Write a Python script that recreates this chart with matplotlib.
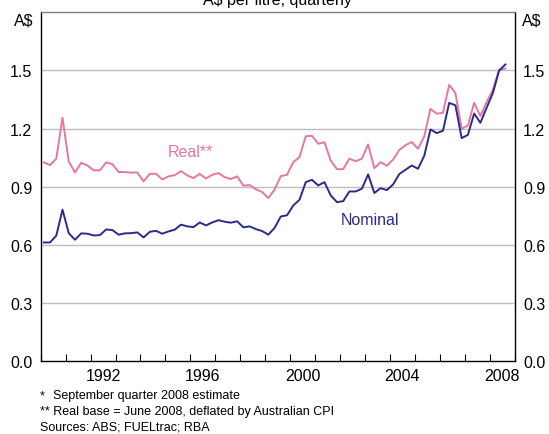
import numpy as np
import matplotlib
matplotlib.use("Agg")
from matplotlib import pyplot as plt
from matplotlib.ticker import MultipleLocator, FixedLocator

plt.rcParams['font.family'] = ['Liberation Sans', 'DejaVu Sans']

# quarterly petrol prices, A$ per litre, March qtr 1990 to Sept qtr 2008
start_year = 1990
real = [1.026, 1.012, 1.045, 1.256, 1.031, 0.974, 1.024, 1.010, 0.985, 0.985,
        1.026, 1.017, 0.976, 0.976, 0.973, 0.974, 0.928, 0.967, 0.967, 0.938,
        0.954, 0.960, 0.981, 0.959, 0.945, 0.967, 0.943, 0.962, 0.971, 0.950,
        0.940, 0.954, 0.906, 0.909, 0.887, 0.873, 0.842, 0.885, 0.955, 0.962,
        1.027, 1.053, 1.161, 1.163, 1.122, 1.130, 1.036, 0.991, 0.991, 1.045,
        1.032, 1.045, 1.119, 0.996, 1.027, 1.009, 1.040, 1.090, 1.115, 1.131,
        1.096, 1.160, 1.302, 1.277, 1.282, 1.426, 1.383, 1.199, 1.216, 1.333,
        1.265, 1.337, 1.400, 1.503, 1.510]
nominal = [0.613, 0.613, 0.648, 0.782, 0.661, 0.627, 0.660, 0.658, 0.649, 0.651,
           0.680, 0.677, 0.653, 0.660, 0.661, 0.665, 0.639, 0.668, 0.673, 0.658,
           0.670, 0.679, 0.705, 0.696, 0.692, 0.716, 0.701, 0.716, 0.728, 0.720,
           0.715, 0.722, 0.691, 0.696, 0.682, 0.672, 0.653, 0.688, 0.747, 0.753,
           0.804, 0.833, 0.924, 0.936, 0.907, 0.924, 0.856, 0.821, 0.826, 0.876,
           0.876, 0.890, 0.964, 0.868, 0.893, 0.883, 0.912, 0.966, 0.988, 1.010,
           0.993, 1.060, 1.196, 1.177, 1.189, 1.333, 1.320, 1.151, 1.168, 1.278,
           1.230, 1.308, 1.383, 1.500, 1.531]
year_labels = [1992, 1996, 2000, 2004, 2008]
yticks = [0.0, 0.3, 0.6, 0.9, 1.2, 1.5]

pink = '#e8769f'
navy = '#2a2b8f'

t = start_year + 0.125 + 0.25*np.arange(len(real))  # mid-quarter

fig = plt.figure(figsize=(5.49, 4.35), dpi=100)
ax = fig.add_axes([0.0741, 0.1671, 0.8634, 0.8023])

for y in yticks[1:]:
    ax.axhline(y, color='#bdbdbd', lw=1.0, zorder=1)

ax.plot(t, real, color=pink, lw=1.4, zorder=3)
ax.plot(t, nominal, color=navy, lw=1.4, zorder=4)

ax.set_xlim(1990, 2009)
ax.set_ylim(0, 1.8)

# labels sit mid-year, tick marks on year boundaries
ax.xaxis.set_major_locator(FixedLocator([y + 0.5 for y in year_labels]))
ax.set_xticklabels([str(y) for y in year_labels])
ax.xaxis.set_minor_locator(MultipleLocator(1))
ax.tick_params(axis='x', which='major', length=0, pad=5, labelsize=11.5)
ax.tick_params(axis='x', which='minor', direction='in', length=5, width=0.8, color='black')

ax.set_yticks(yticks)
ax.set_yticklabels(['%.1f' % v for v in yticks])
ax.tick_params(axis='y', length=0, pad=6, labelsize=11.5, labelright=True)

for s in ['left', 'right', 'bottom']:
    ax.spines[s].set_color('black')
    ax.spines[s].set_linewidth(1.0)
ax.spines['top'].set_color('#808080')
ax.spines['top'].set_linewidth(1.0)

ax.text(1996.0, 1.08, 'Real**', color=pink, fontsize=11.5, ha='center', va='center')
ax.text(2003.2, 0.73, 'Nominal', color=navy, fontsize=11.5, ha='center', va='center')

fig.text(0.505, 1 - 5/435, 'A$ per litre, quarterly', ha='center', va='baseline', fontsize=11.5)
fig.text(33/549, 1 - 21/435, 'A$', ha='right', va='center', fontsize=11.5)
fig.text(522/549, 1 - 21/435, 'A$', ha='left', va='center', fontsize=11.5)

fig.text(40/549, 1 - 396/435, '*', ha='left', va='center', fontsize=9)
fig.text(53/549, 1 - 396/435, 'September quarter 2008 estimate', ha='left', va='center', fontsize=9)
fig.text(40/549, 1 - 412/435, '** Real base = June 2008, deflated by Australian CPI', ha='left', va='center', fontsize=9)
fig.text(40/549, 1 - 428/435, 'Sources: ABS; FUELtrac; RBA', ha='left', va='center', fontsize=9)

fig.savefig('out.png', dpi=100)
